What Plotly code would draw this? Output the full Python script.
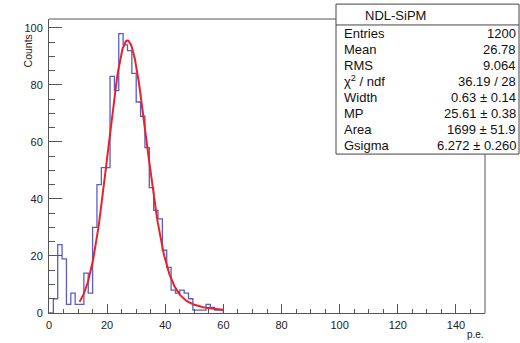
import numpy as np
import plotly.graph_objects as go

# ---------------- data ----------------
bin_width = 1.5
counts = [0, 5, 24, 19, 3, 7, 3, 3, 14, 7,
          30, 45, 51, 51, 83, 78, 98, 94, 92, 84,
          74, 69, 58, 44, 36, 33, 22, 16, 8, 7,
          8, 7, 5, 1, 1, 1, 3, 2, 1, 1]
x_axis_range = [0, 150]
y_axis_range = [0, 103.1]
x_tick_step = 20
y_tick_step = 20

stats_title = "NDL-SiPM"
stats_labels = ["Entries", "Mean", "RMS", "χ<sup>2</sup> / ndf", "Width", "MP", "Area", "Gsigma"]
stats_values = ["1200", "26.78", "9.064", "36.19 / 28", "0.63 ± 0.14",
                "25.61 ± 0.38", "1699 ± 51.9", "6.272 ± 0.260"]

fit_width = 0.63
fit_mp = 25.61
fit_area = 1699.0
fit_gsigma = 6.272
fit_range = [10.5, 60.0]

# ---------------- Landau (standard ROOT form) ----------------
t = np.linspace(0.0, 30.0, 12001)
tlogt = np.zeros_like(t)
tlogt[1:] = t[1:] * np.log(t[1:])
damp = np.exp(-np.pi * t / 2.0)


def landau_table(lams, sign):
    out = np.empty(len(lams))
    for i0 in range(0, len(lams), 200):
        l = lams[i0:i0 + 200, None]
        integ = damp * np.cos(l * t + sign * tlogt)
        out[i0:i0 + 200] = np.trapezoid(integ, t, axis=1) / np.pi
    return out


chk = landau_table(np.array([5.0, -5.0]), 1.0)
sgn = 1.0 if chk[0] > chk[1] else -1.0
lam_grid = np.arange(-6.0, 115.0, 0.02)
lam_tab = landau_table(lam_grid, sgn)
lam_tab[lam_grid < -4.5] = 0.0
lam_tab = np.clip(lam_tab, 0.0, None)


def landau(lam):
    return np.interp(lam, lam_grid, lam_tab, left=0.0, right=0.0)


def langaus(x, w, mp, area, gs):
    mpc = mp + 0.22278298 * w
    npts, sc = 100, 5.0
    step = 2 * sc * gs / npts
    i = np.arange(1, npts + 1)
    xx = (x[:, None] - sc * gs) + (i[None, :] - 0.5) * step
    fl = landau((xx - mpc) / w) / w
    g = np.exp(-0.5 * ((x[:, None] - xx) / gs) ** 2)
    s = (fl * g).sum(axis=1)
    return area * step * s / (np.sqrt(2 * np.pi) * gs)


xf = np.linspace(fit_range[0], fit_range[1], 200)
yf = langaus(xf, fit_width, fit_mp, fit_area, fit_gsigma)

# ---------------- histogram step path ----------------
edges = np.arange(len(counts) + 1) * bin_width
hx = [edges[0]] + list(edges[:-1]) + [edges[-1], edges[-1]]
hy = [0] + list(counts) + [counts[-1], 0]

# ---------------- figure ----------------
W, H = 520, 343
L, R, T, B = 49, 485, 19, 315
pw, ph = R - L, B - T


def PX(px):
    return (px - L) / pw


def PY(py):
    return (B - py) / ph


font = "Liberation Sans, Arial, Helvetica, sans-serif"
fig = go.Figure()
fig.add_trace(go.Scatter(x=hx, y=hy, mode="lines", line=dict(color="#5a5ec4", width=1.3, shape="hv"),
                         hoverinfo="skip", showlegend=False))
fig.add_trace(go.Scatter(x=xf, y=yf, mode="lines", line=dict(color="#e8222a", width=2),
                         hoverinfo="skip", showlegend=False))

axcol = "#555555"
fig.update_layout(
    width=W, height=H,
    margin=dict(l=L, r=W - R, t=T, b=H - B, pad=0),
    paper_bgcolor="white", plot_bgcolor="white",
    font=dict(family=font, size=11, color="#222"),
    xaxis=dict(range=x_axis_range, tick0=0, dtick=x_tick_step, ticks="inside", ticklen=9,
               tickwidth=1, tickcolor=axcol, showline=True, linecolor=axcol, linewidth=1,
               mirror=False, showgrid=False, zeroline=False,
               minor=dict(dtick=5, ticks="inside", ticklen=4, tickcolor=axcol, showgrid=False),
               tickfont=dict(size=11, color="#222"), ticklabelstandoff=2),
    yaxis=dict(range=y_axis_range, tick0=0, dtick=y_tick_step, ticks="inside", ticklen=13,
               tickwidth=1, tickcolor=axcol, showline=True, linecolor=axcol, linewidth=1,
               mirror=False, showgrid=False, zeroline=False,
               minor=dict(dtick=5, ticks="inside", ticklen=6, tickcolor=axcol, showgrid=False),
               tickfont=dict(size=11, color="#222"), ticklabelstandoff=3),
)

ann = []
ann.append(dict(x=PX(20), y=PY(33), xref="paper", yref="paper", text="Counts", textangle=-90,
                showarrow=False, font=dict(size=10.5, color="#222")))
ann.append(dict(x=PX(486), y=PY(337), xref="paper", yref="paper", text="p.e.", xanchor="right",
                yanchor="middle", showarrow=False, font=dict(size=10, color="#222")))

# frame top/right lines, then stats box on top
bx0, bx1, by0, by1, bsep = 336, 519, 4, 155, 25
shapes = [
    dict(type="line", xref="paper", yref="paper", x0=0, x1=1, y0=1, y1=1,
         line=dict(color=axcol, width=1), layer="above"),
    dict(type="line", xref="paper", yref="paper", x0=1, x1=1, y0=0, y1=1,
         line=dict(color=axcol, width=1), layer="above"),
    dict(type="rect", xref="paper", yref="paper", x0=PX(bx0), x1=PX(bx1), y0=PY(by1), y1=PY(by0),
         line=dict(color="#444", width=1), fillcolor="white", layer="above"),
    dict(type="line", xref="paper", yref="paper", x0=PX(bx0), x1=PX(bx1), y0=PY(bsep), y1=PY(bsep),
         line=dict(color="#444", width=1), layer="above"),
]
ann.append(dict(x=PX((bx0 + bx1) / 2), y=PY(15), xref="paper", yref="paper", text=stats_title,
                yanchor="middle", showarrow=False, font=dict(size=13, color="#111")))
for i, (lab, val) in enumerate(zip(stats_labels, stats_values)):
    yy = PY(33.3 + 16.1 * i)
    ann.append(dict(x=PX(342), y=yy, xref="paper", yref="paper", text=lab, xanchor="left",
                    yanchor="middle", showarrow=False, font=dict(size=13, color="#111")))
    ann.append(dict(x=PX(518), y=yy, xref="paper", yref="paper", text=val, xanchor="right",
                    yanchor="middle", showarrow=False, font=dict(size=13, color="#111")))

fig.update_layout(annotations=ann, shapes=shapes)
fig.write_html("out.html", config={"displayModeBar": False},
               post_script="document.body.style.margin='0';document.body.style.padding='0';")
